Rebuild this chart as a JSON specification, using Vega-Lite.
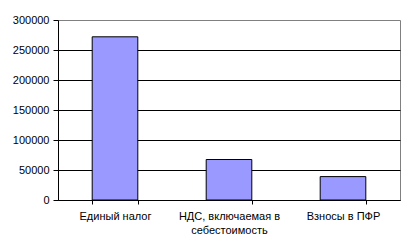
{
  "$schema": "https://vega.github.io/schema/vega-lite/v6.json",
  "autosize": "none",
  "width": 342,
  "height": 180,
  "padding": {"left": 58, "top": 20, "right": 13, "bottom": 52},
  "background": "white",
  "data": {"values": [
    {"category": "Единый налог", "value": 272000},
    {"category": "НДС, включаемая в себестоимость", "value": 67500},
    {"category": "Взносы в ПФР", "value": 39000}
  ]},
  "mark": {"type": "bar", "color": "#9999FF", "stroke": "black", "strokeWidth": 1},
  "encoding": {
    "x": {
      "field": "category", "type": "nominal", "sort": null,
      "scale": {"paddingInner": 0.6, "paddingOuter": 0.3},
      "axis": {
        "title": null, "labelAngle": 0, "ticks": true, "tickBand": "extent", "tickSize": 4,
        "labelPadding": 6, "labelLineHeight": 14,
        "labelExpr": "datum.value == 'НДС, включаемая в себестоимость' ? ['НДС, включаемая в', 'себестоимость'] : datum.value"
      }
    },
    "y": {
      "field": "value", "type": "quantitative",
      "scale": {"domain": [0, 300000], "nice": false},
      "axis": {
        "title": null, "values": [0, 50000, 100000, 150000, 200000, 250000, 300000],
        "tickSize": 5, "labelPadding": 4, "format": "d",
        "grid": true, "gridColor": "#000000",
        "gridOpacity": {"condition": {"test": "datum.value == 300000", "value": 0}, "value": 1}
      }
    }
  },
  "config": {
    "font": "Liberation Sans",
    "view": {"stroke": "#808080", "strokeWidth": 1},
    "axis": {
      "domainColor": "#000000", "tickColor": "#000000", "labelColor": "#000000",
      "labelFont": "Liberation Sans", "labelFontSize": 11,
      "domainWidth": 1, "tickWidth": 1, "gridWidth": 1
    }
  }
}
